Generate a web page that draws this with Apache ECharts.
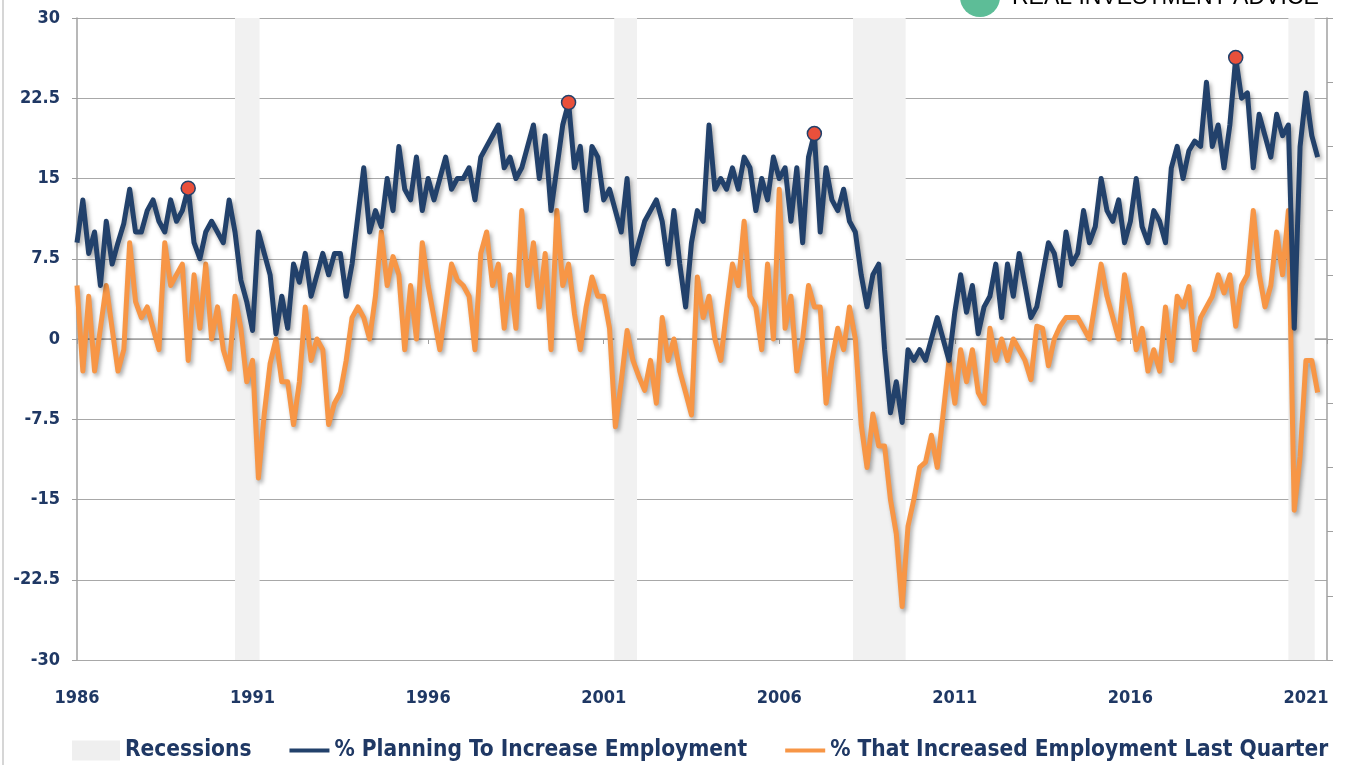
<!DOCTYPE html>
<html lang="en">
<head>
<meta charset="UTF-8">
<script src="https://cdn.jsdelivr.net/npm/echarts@6/dist/echarts.min.js"></script>
<style>
    html, body { margin: 0; padding: 0; background: #fff; }
    #chart { width: 1349px; height: 765px; }
</style>
</head>
<body>
<div id="chart"></div>
<script>
    // bimonthly readings, 6 per year starting Jan 1986
    const startYear = 1986
    const stepsPerYear = 6

    const planning = [
        9, 13, 8, 10, 5, 11,            // 1986
        7, 9, 10.8, 14, 10, 10,         // 1987
        12, 13, 11, 10, 13, 11,         // 1988
        12, 14.1, 9, 7.5, 10, 11,       // 1989
        10, 9, 13, 10, 5.5, 3.5,        // 1990
        0.8, 10, 8, 6, 0.5, 4,          // 1991
        1, 7, 5.3, 8, 4, 6,             // 1992
        8, 6, 8, 8, 4, 7,               // 1993
        11.5, 16, 10, 12, 10.5, 15,     // 1994
        12, 18, 14, 13, 17, 12,         // 1995
        15, 13, 15, 17, 14, 15,         // 1996
        15, 16, 13, 17, 18, 19,         // 1997
        20, 16, 17, 15, 16, 18,         // 1998
        20, 15, 19, 12, 16, 20,         // 1999
        22.1, 16, 18, 12, 18, 17,       // 2000
        13, 14, 12, 10, 15, 7,          // 2001
        9, 11, 12, 13, 11, 7,           // 2002
        12, 7, 3, 9, 12, 11,            // 2003
        20, 14, 15, 14, 16, 14,         // 2004
        17, 16, 12, 15, 13, 17,         // 2005
        15, 16, 11, 16, 9, 17,          // 2006
        19.2, 10, 16, 13, 12, 14,       // 2007
        11, 10, 6, 3, 6, 7,             // 2008
        -1, -6.9, -4, -7.8, -1, -2,     // 2009
        -1, -2, 0, 2, 0, -2,            // 2010
        2.5, 6, 2.5, 5, 0.5, 3,         // 2011
        4, 7, 2, 7, 4, 8,               // 2012
        5, 2, 3, 6, 9, 8,               // 2013
        5, 10, 7, 8, 12, 9,             // 2014
        10.5, 15, 12, 11, 13, 9,        // 2015
        11, 15, 10.5, 9, 12, 11,        // 2016
        9, 16, 18, 15, 17.6, 18.5,      // 2017
        18, 24, 18, 20, 16, 20,         // 2018
        26.3, 22.5, 23, 16, 21, 19,     // 2019
        17, 21, 19, 20, 1, 18,          // 2020
        23, 19, 17                      // 2021
    ]

    const increased = [
        5, -3, 4, -3, 1, 5,             // 1986
        1, -3, -1, 9, 3.5, 2,           // 1987
        3, 1, -1, 9, 5, 6,              // 1988
        7, -2, 6, 1, 7, 0,              // 1989
        3, -1, -2.8, 4, 1, -4,          // 1990
        -2, -13, -7, -2.3, 0, -4,       // 1991
        -4, -8, -4, 3, -2, 0,           // 1992
        -1, -8, -6, -5, -2, 2,          // 1993
        3, 2, 0, 4, 10, 5,              // 1994
        7.7, 6, -1, 5, 0, 9,            // 1995
        5, 2, -1, 3, 7, 5.5,            // 1996
        5, 4, -1, 8, 10, 5,             // 1997
        7, 1, 6, 1, 12, 5,              // 1998
        9, 3, 8, -1, 12, 5,             // 1999
        7, 2.4, -1, 3, 5.8, 4,          // 2000
        4, 1, -8.2, -4, 0.8, -2,        // 2001
        -3.5, -4.8, -2, -6, 2, -2,      // 2002
        0, -3, -5, -7.1, 5.8, 2,        // 2003
        4, 0, -2, 2.7, 7, 5,            // 2004
        11, 4, 3, -1, 7, 0,             // 2005
        14, 1, 4, -3, 0, 5,             // 2006
        3, 3, -6, -2, 1, -1,            // 2007
        3, 0, -8, -12, -7, -10,         // 2008
        -10, -15, -18.2, -25, -17.5, -15, // 2009
        -12, -11.5, -9, -12, -7, -2,    // 2010
        -6, -1, -4, -1, -5, -6,         // 2011
        1, -2, 0, -2, 0, -1,            // 2012
        -2, -3.8, 1.2, 1, -2.5, 0,      // 2013
        1.2, 2, 2, 2, 1, 0,             // 2014
        3.4, 7, 4, 2, 0, 6,             // 2015
        3, -1, 1, -3, -1, -3,           // 2016
        3, -2, 4, 3, 4.9, -1,           // 2017
        2, 3, 4, 6, 4.3, 6,             // 2018
        1.2, 5, 6, 12, 6.1, 3,          // 2019
        5, 10, 6, 12, -16, -11,         // 2020
        -2, -2, -5                      // 2021
    ]

    // cycle peaks of the planning series, marked with red dots
    const peakIndex = [19, 84, 126, 198]

    const recessionStart = [1990.5, 2001.3, 2008.1, 2020.5]
    const recessionEnd = [1991.2, 2001.95, 2009.6, 2021.25]

    const navy = '#22416b'
    const navyText = '#1f3864'
    const orange = '#f79646'
    const axisGrey = '#a0a0a0'
    const font = "'DejaVu Sans Condensed', 'Liberation Sans Narrow', sans-serif"

    const toPoints = arr => arr.map((v, i) => [startYear + i / stepsPerYear, v])
    const planningPts = toPoints(planning)
    const increasedPts = toPoints(increased)

    const linePath = 'path://M0,0M48,20M8,8h40v4h-40z'

    const lineShadow = {
        shadowColor: 'rgba(0,0,0,0.35)',
        shadowBlur: 4,
        shadowOffsetX: 2,
        shadowOffsetY: 3
    }

    const chart = echarts.init(document.getElementById('chart'))

    chart.setOption({
        animation: false,
        backgroundColor: '#fff',
        grid: { left: 77, right: 22, top: 18, bottom: 105 },
        legend: {
            left: 67,
            top: 734,
            itemWidth: 48,
            itemHeight: 20,
            itemGap: 30,
            textStyle: { fontFamily: font, fontWeight: 'bold', fontSize: 22.5, color: navyText },
            data: [
                { name: 'Recessions', icon: 'rect' },
                { name: '% Planning To Increase Employment', icon: linePath },
                { name: '% That Increased Employment Last Quarter', icon: linePath }
            ]
        },
        xAxis: [
            {
                type: 'value', min: 1986, max: 2021.6, interval: 5,
                axisLine: { show: false, onZero: false },
                axisTick: { show: false },
                splitLine: { show: false },
                axisLabel: {
                    margin: 29, fontFamily: font, fontWeight: 'bold', fontSize: 18, color: navyText,
                    formatter: v => (v - 1986) % 5 === 0 ? String(v) : ''
                }
            },
            {
                type: 'value', position: 'top', min: 1986, max: 2021.6, interval: 5,
                axisLine: { show: true, onZero: true, lineStyle: { color: axisGrey, width: 1.5 } },
                axisTick: { show: true, inside: true, length: 5, lineStyle: { color: axisGrey } },
                axisLabel: { show: false },
                splitLine: { show: false }
            }
        ],
        yAxis: [
            {
                type: 'value', min: -30, max: 30, interval: 7.5,
                axisLine: { show: true, onZero: false, lineStyle: { color: axisGrey, width: 1.5 } },
                axisTick: { show: true, length: 5, lineStyle: { color: axisGrey } },
                splitLine: { lineStyle: { color: '#a8a8a8', width: 1.2 } },
                axisLabel: { margin: 17, fontFamily: font, fontWeight: 'bold', fontSize: 18, color: navyText }
            },
            {
                type: 'value', position: 'right', min: 0, max: 1, interval: 0.1,
                axisLine: { show: true, onZero: false, lineStyle: { color: axisGrey, width: 1.5 } },
                axisTick: { show: true, length: 6, lineStyle: { color: axisGrey } },
                axisLabel: { show: false },
                splitLine: { show: false }
            }
        ],
        series: [
            {
                name: 'Recessions',
                type: 'line',
                color: '#efefef',
                data: [],
                z: 1,
                markArea: {
                    silent: true,
                    itemStyle: { color: '#f1f1f1' },
                    data: recessionStart.map((s, i) => [{ xAxis: s }, { xAxis: recessionEnd[i] }])
                }
            },
            {
                name: '% That Increased Employment Last Quarter',
                type: 'line',
                color: orange,
                data: increasedPts,
                symbol: 'none',
                z: 3,
                lineStyle: Object.assign({ width: 5, color: orange, join: 'round' }, lineShadow)
            },
            {
                name: '% Planning To Increase Employment',
                type: 'line',
                color: navy,
                data: planningPts,
                symbol: 'none',
                z: 4,
                lineStyle: Object.assign({ width: 5, color: navy, join: 'round' }, lineShadow)
            },
            {
                name: 'peaks',
                type: 'scatter',
                data: peakIndex.map(i => planningPts[i]),
                symbolSize: 14,
                z: 5,
                itemStyle: { color: '#e9503b', opacity: 1, borderColor: navy, borderWidth: 1.5 }
            }
        ],
        graphic: [
            {
                type: 'line', silent: true,
                shape: { x1: 3, y1: 0, x2: 3, y2: 765 },
                style: { stroke: '#c8c8c8', lineWidth: 1.5 }
            },
            {
                type: 'circle', silent: true,
                shape: { cx: 980, cy: -3, r: 20 },
                style: { fill: '#5dbd97' }
            },
            {
                type: 'text', silent: true, left: 1012, top: -14,
                style: {
                    text: '{a|REAL }{b|INVESTMENT}{a| ADVICE}',
                    rich: {
                        a: { fontFamily: 'Liberation Sans', fontSize: 23, color: '#4a4a4a' },
                        b: { fontFamily: 'Liberation Sans', fontSize: 23, color: '#6cc3a0' }
                    }
                }
            }
        ]
    })
</script>
</body>
</html>
